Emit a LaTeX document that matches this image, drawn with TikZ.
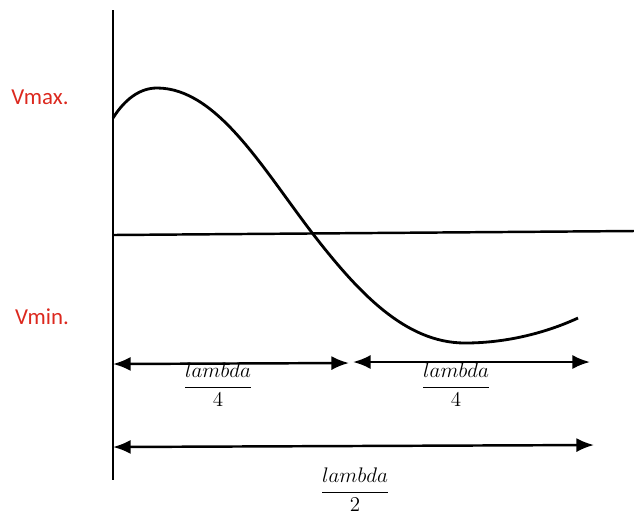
\documentclass[tikz,border=0pt]{standalone}
\usepackage{fontspec}
\usepackage{amsmath}
\setmainfont{Carlito}
\usepackage{tikz}
\usetikzlibrary{arrows.meta,positioning,calc}
\definecolor{labelred}{RGB}{220, 40, 30}

\begin{document}
\begin{tikzpicture}[x=0.02cm, y=-0.02cm,
    axis/.style={line width=1.4pt, color=black},
    wave/.style={line width=1.6pt, color=black},
    dim/.style={line width=1.4pt, {Latex[length=10pt,width=8pt]}-{Latex[length=10pt,width=8pt]}},
    vlabel/.style={font=\fontsize{13}{15}\selectfont, text=labelred},
    frac/.style={font=\fontsize{12}{14}\selectfont}
]
    \useasboundingbox (0,0) rectangle (634,525);

    % axes
    \coordinate (ytop) at (113,10);
    \coordinate (ybot) at (113,480);
    \coordinate (xleft) at (113,235);
    \coordinate (xright) at (634,231);
    \draw[axis] (ytop) -- (ybot);
    \draw[axis] (xleft) -- (xright);

    % voltage curve
    \draw[wave] (113,118) .. controls (125,99) and (140,88) .. (157,88)
        .. controls (217,88) and (263,169) .. (313,234)
        .. controls (358,292) and (405,343) .. (465,343)
        .. controls (510,343) and (550,331) .. (578,318);

    \node[vlabel] (vmax) at (40,97) {Vmax.};
    \node[vlabel] (vmin) at (42,317) {Vmin.};

    % quarter and half wavelength spans
    \coordinate (q1a) at (113,364);
    \coordinate (q1b) at (349,363);
    \coordinate (q2a) at (353,362);
    \coordinate (q2b) at (590,362);
    \coordinate (h1a) at (113,447);
    \coordinate (h1b) at (594,445);
    \draw[dim] (q1a) -- (q1b);
    \draw[dim] (q2a) -- (q2b);
    \draw[dim] (h1a) -- (h1b);

    \node[frac] (lq1) at (218,385) {$\dfrac{lambda}{4}$};
    \node[frac] (lq2) at (456,385) {$\dfrac{lambda}{4}$};
    \node[frac] (lhalf) at (355,490) {$\dfrac{lambda}{2}$};
\end{tikzpicture}
\end{document}
